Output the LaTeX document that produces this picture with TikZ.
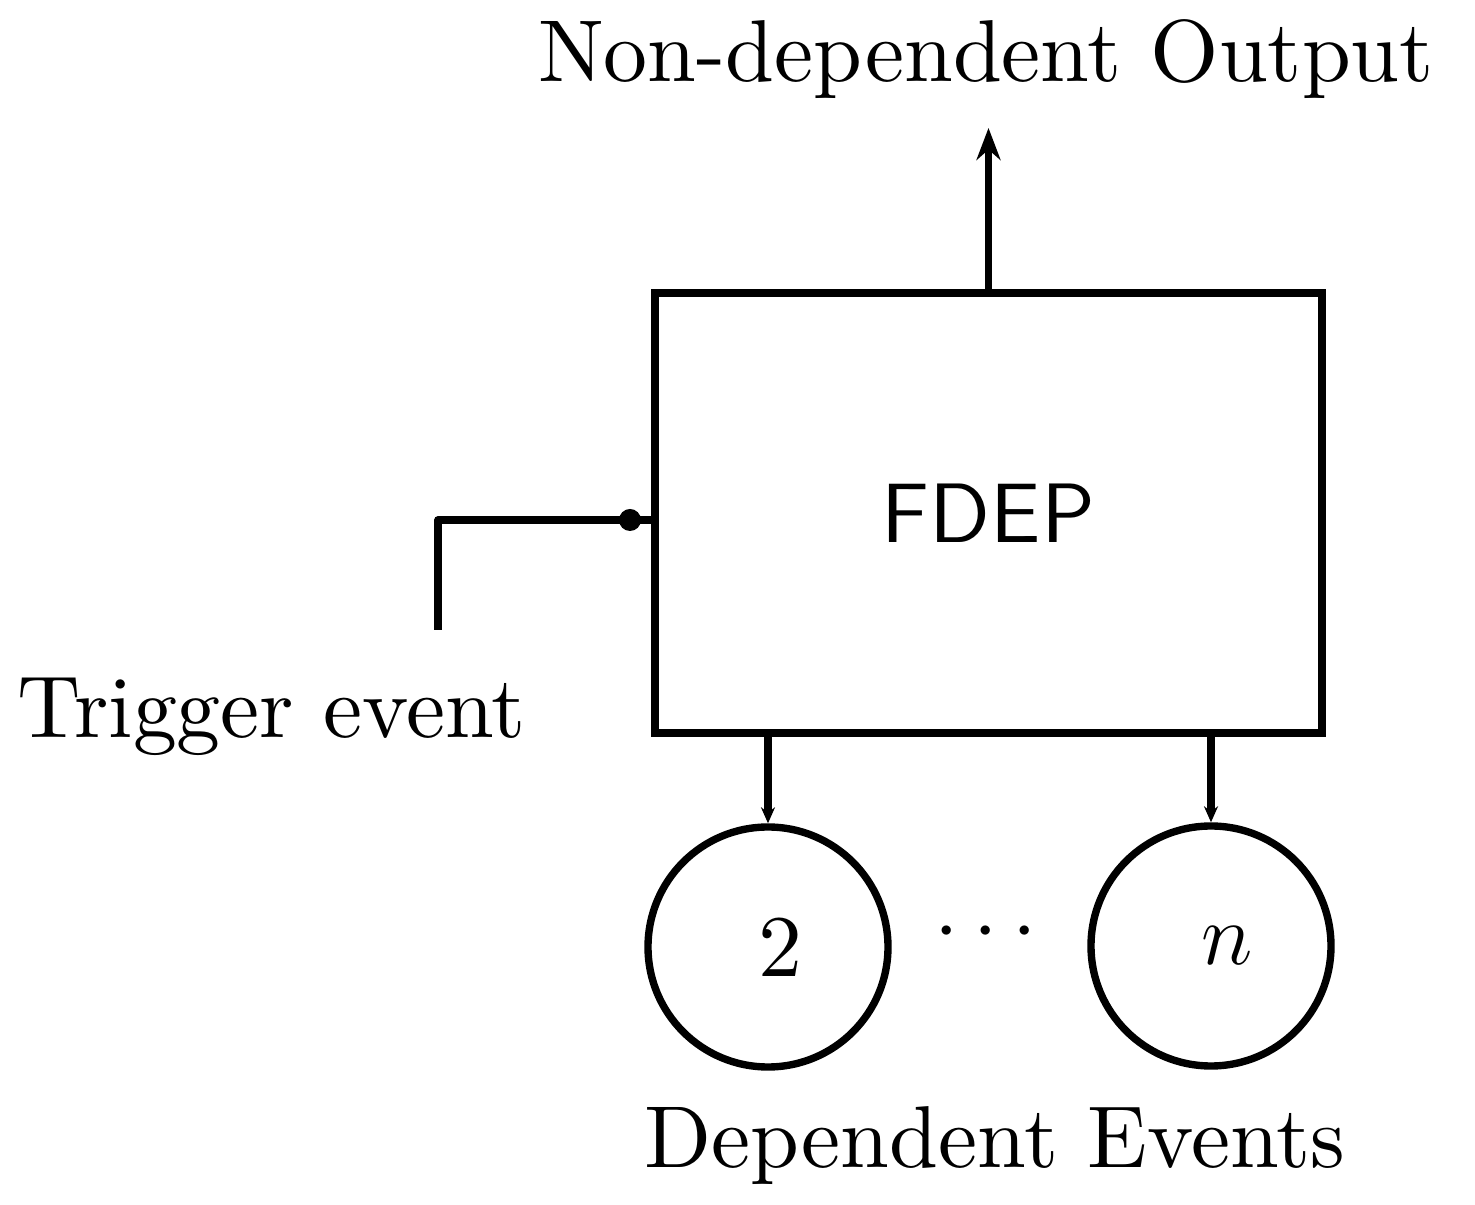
\RequirePackage{fix-cm}
\documentclass[tikz,border=0pt]{standalone}
\usepackage{fontspec}
\newfontfamily\tenrm{lmroman10-regular.otf}
\newfontfamily\tensf{lmsans10-regular.otf}
\usetikzlibrary{arrows.meta}
\tikzset{
  big/.style={font=\tenrm\fontsize{25}{30}\selectfont, inner sep=0pt},
  box/.style={draw, line width=2.1pt, minimum width=6.67cm, minimum height=4.40cm,
    font=\tensf\fontsize{24}{28}\selectfont},
  event/.style={draw, circle, line width=2.1pt, minimum size=2.40cm, inner sep=0pt,
    font=\tenrm\fontsize{25}{30}\selectfont},
  conn/.style={line width=2.1pt},
  bigtip/.style={-{Stealth[length=3.2mm, width=2.4mm]}},
  smalltip/.style={-{Stealth[length=1.6mm, width=1.4mm]}}
}
\begin{document}
\begin{tikzpicture}
\useasboundingbox (0,0) rectangle (14.75,-12.05);
% box
\node[box] (fdep) at (9.885,-5.13) {FDEP};
% output
\node[big, anchor=base] (out) at (9.86,-0.82) {Non-dependent Output};
\coordinate (outtip) at (9.885,-1.28);
\draw[conn, bigtip] (fdep.north) -- (outtip);
% trigger
\node[big, anchor=base] (trigtext) at (2.72,-7.38) {Trigger event};
\coordinate (trig) at (4.38,-6.30);
\node[circle, fill, inner sep=0pt, minimum size=0.22cm] (dot) at (6.30,-5.20) {};
\draw[conn, line join=round] (trig) |- (fdep.west |- dot);
% dependent events
\node[event] (e2) at (7.68,-9.47) {\hspace*{0.24cm}2};
\node[event] (en) at (12.11,-9.46) {\hspace*{0.32cm}$n$};
\node[big] (dots) at (9.86,-9.33) {$\cdots$};
\draw[conn, smalltip] (fdep.south -| e2.north) -- (e2.north);
\draw[conn, smalltip] (fdep.south -| en.north) -- (en.north);
\node[big, anchor=base] (deptext) at (9.95,-11.68) {Dependent Events};
\end{tikzpicture}
\end{document}
